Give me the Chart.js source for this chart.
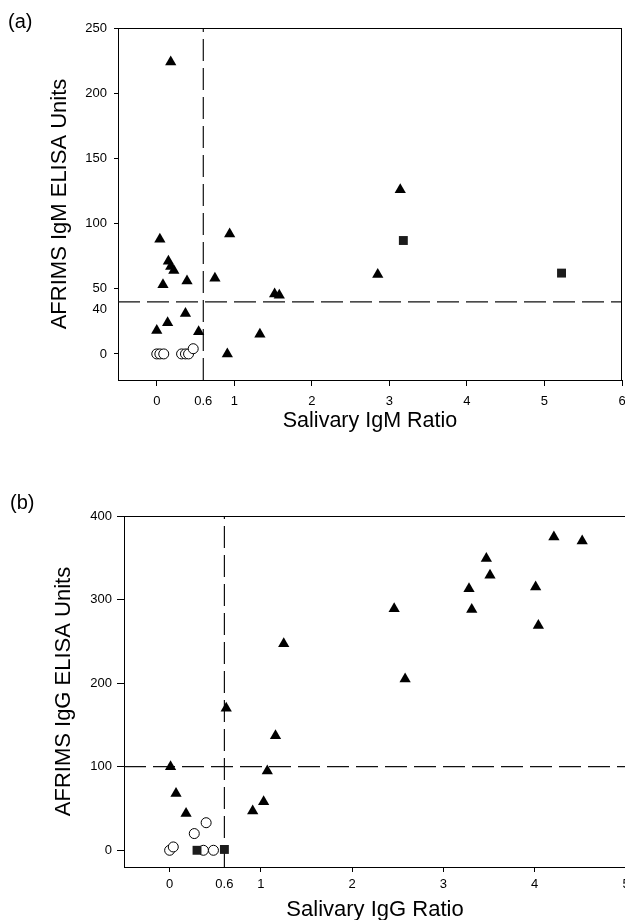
<!DOCTYPE html>
<html>
<head>
<meta charset="utf-8">
<script src="https://cdn.jsdelivr.net/npm/chart.js@4.4.1/dist/chart.umd.min.js"></script>
<style>
  html, body { margin: 0; padding: 0; background: #fff; width: 625px; height: 920px; overflow: hidden; position: relative; }
  canvas { position: absolute; left: 0; }
  .panel { position: absolute; z-index: 2; font: 20px "Liberation Sans", Arial, Helvetica, sans-serif; line-height: 24px; color: #000; }
</style>
</head>
<body>
<canvas id="igm" width="660" height="460" style="top:0"></canvas>
<canvas id="igg" width="660" height="470" style="top:460px"></canvas>
<div class="panel" style="left:8px; top:9px">(a)</div>
<div class="panel" style="left:10px; top:490px">(b)</div>
<script>
// ---- Panel (a): salivary IgM ratio vs AFRIMS IgM ELISA units ----
const igmPosX = [0.18, 0.04, 0.94, 0.15, 0.18, 0.22, 0.08, 0.39, 0.75, 1.52, 1.58, 0.37, 0.14, 0.00, 0.54, 1.33, 0.91, 3.14, 2.85];
const igmPosY = [224, 88, 92, 71, 67, 64, 53, 56, 58, 46, 45, 31, 24, 18, 17, 15, 0, 126, 61];
const igmSqX = [3.18, 5.22];
const igmSqY = [87, 62];
const igmNegX = [0.00, 0.04, 0.09, 0.32, 0.37, 0.41, 0.47];
const igmNegY = [0, 0, 0, 0, 0, 0, 4];
const igmXTicks = [0, 0.6, 1, 2, 3, 4, 5, 6];
const igmYTicks = [0, 40, 50, 100, 150, 200, 250];
const igmCutX = 0.6;
const igmCutY = 40;

// ---- Panel (b): salivary IgG ratio vs AFRIMS IgG ELISA units ----
const iggPosX = [0.01, 0.07, 0.18, 0.62, 1.25, 1.16, 1.07, 1.03, 0.91, 2.46, 2.58, 3.28, 3.31, 3.47, 3.51, 4.01, 4.04, 4.21, 4.52];
const iggPosY = [100, 68, 44, 170, 247, 137, 95, 58, 47, 289, 205, 313, 288, 349, 329, 315, 269, 375, 370];
const iggSqX = [0.30, 0.60];
const iggSqY = [0, 1];
const iggNegX = [0.00, 0.04, 0.27, 0.40, 0.37, 0.48];
const iggNegY = [0, 4, 20, 33, 0, 0];
const iggXTicks = [0, 0.6, 1, 2, 3, 4, 5];
const iggYTicks = [0, 100, 200, 300, 400];
const iggCutX = 0.6;
const iggCutY = 100;

const FONT = '"Liberation Sans", Arial, Helvetica, sans-serif';

function pts(xs, ys) { return xs.map((x, i) => ({ x: x, y: ys[i] })); }

// Box line on the top and right edges of the plot area
const frame = {
  id: 'frame',
  afterDatasetsDraw(chart) {
    const a = chart.chartArea, ctx = chart.ctx;
    ctx.save();
    ctx.strokeStyle = '#000';
    ctx.lineWidth = 1;
    ctx.beginPath();
    ctx.moveTo(a.left, Math.round(a.top) + 0.5);
    ctx.lineTo(a.right, Math.round(a.top) + 0.5);
    ctx.moveTo(Math.round(a.right) - 0.5, a.top);
    ctx.lineTo(Math.round(a.right) - 0.5, a.bottom);
    ctx.stroke();
    ctx.restore();
  }
};

function makeChart(id, o) {
  const cutLine = {
    showLine: true, pointRadius: 0, borderColor: '#111', borderWidth: 1.2,
    borderDash: [22, 7], fill: false, order: 2
  };
  return new Chart(document.getElementById(id), {
    type: 'scatter',
    data: {
      datasets: [
        { data: pts(o.posX, o.posY), pointStyle: 'triangle', pointRadius: 6.5, backgroundColor: '#000', borderWidth: 0, order: 1 },
        { data: pts(o.sqX, o.sqY), pointStyle: 'rect', pointRadius: 6.3, backgroundColor: '#1c1c1c', borderWidth: 0, order: 1 },
        { data: pts(o.negX, o.negY), pointStyle: 'circle', pointRadius: 5, backgroundColor: '#fff', borderColor: '#000', borderWidth: 1, order: 1 },
        Object.assign({ data: [{ x: o.xMin, y: o.cutY }, { x: o.xMax, y: o.cutY }] }, cutLine),
        Object.assign({ data: [{ x: o.cutX, y: o.yMin }, { x: o.cutX, y: o.yMax }] }, cutLine)
      ]
    },
    options: {
      responsive: false,
      animation: false,
      devicePixelRatio: 1,
      layout: { padding: o.pad, autoPadding: false },
      plugins: { legend: { display: false }, tooltip: { enabled: false } },
      scales: {
        x: {
          type: 'linear', min: o.xMin, max: o.xMax,
          afterBuildTicks: s => { s.ticks = o.xTicks.map(v => ({ value: v })); },
          afterFit: s => { s.height = o.xAxisH; s.paddingLeft = 0; s.paddingRight = 0; },
          ticks: { autoSkip: false, maxRotation: 0, padding: o.xTickPad, color: '#000',
                   font: { family: FONT, size: 13 }, callback: v => String(v) },
          grid: { drawOnChartArea: false, tickLength: o.xTickLen, tickWidth: 1,
                  tickColor: c => (c.tick && o.hideX.includes(c.tick.value)) ? 'rgba(0,0,0,0)' : '#000' },
          border: { color: '#000', width: 1 },
          title: { display: true, text: o.xTitle, color: '#000',
                   font: { family: FONT, size: o.xTitleSize }, padding: { top: 0, bottom: o.xTitlePad } }
        },
        y: {
          type: 'linear', min: o.yMin, max: o.yMax,
          afterBuildTicks: s => { s.ticks = o.yTicks.map(v => ({ value: v })); },
          afterFit: s => { s.width = o.yAxisW; s.paddingTop = 0; s.paddingBottom = 0; },
          ticks: { autoSkip: false, padding: o.yTickPad, color: '#000',
                   font: { family: FONT, size: 13 },
                   callback: v => o.hideY.includes(v) ? ['', String(v)] : String(v) },
          grid: { drawOnChartArea: false, tickLength: o.yTickLen, tickWidth: 1,
                  tickColor: c => (c.tick && o.hideY.includes(c.tick.value)) ? 'rgba(0,0,0,0)' : '#000' },
          border: { color: '#000', width: 1 },
          title: { display: true, text: o.yTitle, color: '#000',
                   font: { family: FONT, size: 22 }, padding: { top: o.yTitlePad, bottom: 0 } }
        }
      }
    },
    plugins: [frame]
  });
}

makeChart('igm', {
  posX: igmPosX, posY: igmPosY, sqX: igmSqX, sqY: igmSqY, negX: igmNegX, negY: igmNegY,
  xTicks: igmXTicks, yTicks: igmYTicks, cutX: igmCutX, cutY: igmCutY,
  hideX: [igmCutX], hideY: [igmCutY],
  xMin: -0.5, xMax: 6, yMin: -20, yMax: 250,
  pad: { top: 28, left: 42, right: 38, bottom: 20 },
  xAxisH: 60, xTickLen: 6, xTickPad: 8, xTitle: 'Salivary IgM Ratio', xTitleSize: 21.5, xTitlePad: 6,
  yAxisW: 76, yTickLen: 4, yTickPad: 7, yTitle: 'AFRIMS IgM ELISA Units', yTitlePad: 5
});

makeChart('igg', {
  posX: iggPosX, posY: iggPosY, sqX: iggSqX, sqY: iggSqY, negX: iggNegX, negY: iggNegY,
  xTicks: iggXTicks, yTicks: iggYTicks, cutX: iggCutX, cutY: iggCutY,
  hideX: [iggCutX], hideY: [],
  xMin: -0.5, xMax: 5, yMin: -20, yMax: 400,
  pad: { top: 56, left: 46, right: 34, bottom: 0 },
  xAxisH: 63, xTickLen: 5, xTickPad: 5, xTitle: 'Salivary IgG Ratio', xTitleSize: 22, xTitlePad: 7,
  yAxisW: 78, yTickLen: 7, yTickPad: 5, yTitle: 'AFRIMS IgG ELISA Units', yTitlePad: 5
});
</script>
</body>
</html>
